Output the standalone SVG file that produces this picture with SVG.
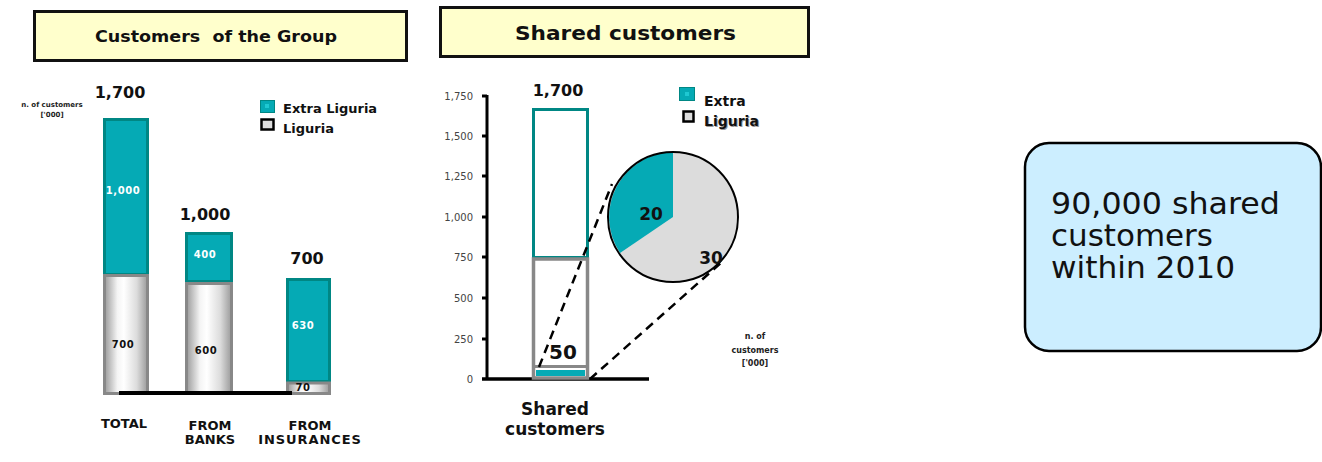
<svg xmlns="http://www.w3.org/2000/svg" width="1322" height="462" viewBox="0 0 1322 462">
<defs>
<linearGradient id="cyl" x1="0" y1="0" x2="1" y2="0">
<stop offset="0" stop-color="#9a9a9a"/>
<stop offset="0.3" stop-color="#f4f4f4"/>
<stop offset="0.45" stop-color="#ffffff"/>
<stop offset="0.75" stop-color="#dcdcdc"/>
<stop offset="1" stop-color="#9a9a9a"/>
</linearGradient>
</defs>
<style>
text{font-family:"DejaVu Sans","Liberation Sans",sans-serif;}
.b{font-weight:bold;}
.title{fill:#ffffcc;stroke:#111;stroke-width:3;}
.teal{fill:#05aab5;stroke:#008784;stroke-width:3;}
.gray{fill:url(#cyl);stroke:#888;stroke-width:3;}
.in{font-size:10px;font-weight:bold;letter-spacing:0.6px;text-anchor:middle;}
.tot{font-size:16px;font-weight:bold;text-anchor:middle;fill:#111;}
.cat{font-size:13px;font-weight:bold;text-anchor:middle;fill:#111;}
.tick{font-size:10px;fill:#444;text-anchor:end;}
.dash{stroke:#000;stroke-width:2.5;stroke-dasharray:9 6;fill:none;}
</style>

<g id="title-group">
<rect class="title" x="34.5" y="11.5" width="372" height="49"/>
<text class="b" x="95" y="42" font-size="15.5" fill="#111" xml:space="preserve" textLength="242" lengthAdjust="spacingAndGlyphs">Customers  of the Group</text>
</g>

<g id="title-shared">
<rect class="title" x="440.5" y="7.5" width="368" height="49"/>
<text class="b" x="515" y="40" font-size="19" fill="#111" textLength="221" lengthAdjust="spacingAndGlyphs">Shared customers</text>
</g>

<g id="chart-group">
<text class="b" x="52" y="107" font-size="7" text-anchor="middle" fill="#222">n. of customers</text>
<text class="b" x="52" y="117" font-size="7" text-anchor="middle" fill="#222">['000]</text>
<g id="legend-group">
<rect x="260.5" y="100.5" width="14" height="12" fill="#05aab5" stroke="#008784" stroke-width="1"/>
<rect x="265" y="104" width="4" height="4" fill="#1ec8d2"/>
<text class="b" x="283" y="113" font-size="13" fill="#111">Extra Liguria</text>
<rect x="261.5" y="119.5" width="12" height="10" fill="#ddd" stroke="#000" stroke-width="2.5"/>
<text class="b" x="283" y="133" font-size="13" fill="#111">Liguria</text>
</g>
<g id="bar-total">
<rect class="teal" x="104.5" y="119.5" width="43" height="155"/>
<rect class="gray" x="104.5" y="275.5" width="43" height="118"/>
<text class="in" x="123" y="194" fill="#fff">1,000</text>
<text class="in" x="123" y="348" fill="#111">700</text>
<text class="tot" x="120" y="98">1,700</text>
<text class="cat" x="124" y="428">TOTAL</text>
</g>
<g id="bar-banks">
<rect class="teal" x="186.5" y="233.5" width="45" height="48"/>
<rect class="gray" x="186.5" y="283.5" width="45" height="110"/>
<text class="in" x="205" y="258" fill="#fff">400</text>
<text class="in" x="206" y="354" fill="#111">600</text>
<text class="tot" x="205" y="220">1,000</text>
<text class="cat" x="210" y="430">FROM</text>
<text class="cat" x="210" y="444">BANKS</text>
</g>
<g id="bar-insurances">
<rect class="teal" x="287.5" y="279.5" width="42" height="102"/>
<rect class="gray" x="287.5" y="383" width="42" height="10.5"/>
<text class="in" x="303" y="329" fill="#fff">630</text>
<text class="in" x="303" y="391" fill="#111">70</text>
<text class="tot" x="307" y="264">700</text>
<text class="cat" x="310" y="430">FROM</text>
<text class="cat" x="310" y="444" letter-spacing="0.9">INSURANCES</text>
</g>
<rect x="119" y="391" width="173" height="4" fill="#000"/>
</g>

<g id="chart-shared">
<g id="axis">
<line x1="487" y1="95" x2="487" y2="380" stroke="#000" stroke-width="3"/>
<line x1="482" y1="379" x2="649" y2="379" stroke="#000" stroke-width="3.5"/>
<g stroke="#000" stroke-width="3">
<line x1="482" y1="96" x2="487" y2="96"/>
<line x1="482" y1="136" x2="487" y2="136"/>
<line x1="482" y1="176" x2="487" y2="176"/>
<line x1="482" y1="217" x2="487" y2="217"/>
<line x1="482" y1="257" x2="487" y2="257"/>
<line x1="482" y1="298" x2="487" y2="298"/>
<line x1="482" y1="339" x2="487" y2="339"/>
</g>
<text class="tick" x="473" y="100">1,750</text>
<text class="tick" x="473" y="140">1,500</text>
<text class="tick" x="473" y="180">1,250</text>
<text class="tick" x="473" y="221">1,000</text>
<text class="tick" x="473" y="261">750</text>
<text class="tick" x="473" y="302">500</text>
<text class="tick" x="473" y="343">250</text>
<text class="tick" x="473" y="383">0</text>
</g>
<g id="bar-shared">
<rect x="533.5" y="109.5" width="54" height="148" fill="#fff" stroke="#008784" stroke-width="3"/>
<rect x="533.5" y="259" width="54" height="119" fill="#fff" stroke="#888" stroke-width="3.5"/>
<line x1="533" y1="366.5" x2="588" y2="366.5" stroke="#888" stroke-width="3"/>
<rect x="536" y="370" width="49" height="6" fill="#05aab5"/>
<text class="tot" x="558" y="96">1,700</text>
<text class="b" x="563" y="359" font-size="20" text-anchor="middle" fill="#111">50</text>
</g>
<g id="pie">
<circle cx="673" cy="217" r="65" fill="#dcdcdc"/>
<path d="M673,217 L673,152 A65,65 0 0,0 620,253 Z" fill="#05aab5"/>
<circle cx="673" cy="217" r="65" fill="none" stroke="#000" stroke-width="2"/>
<text class="b" x="651" y="220" font-size="17" text-anchor="middle" fill="#111">20</text>
<text class="b" x="711" y="264" font-size="17" text-anchor="middle" fill="#111">30</text>
</g>
<g id="legend-shared">
<rect x="679.5" y="87.5" width="15" height="13" fill="#05aab5" stroke="#008784" stroke-width="1"/>
<rect x="685" y="92" width="4" height="4" fill="#1ec8d2"/>
<text class="b" x="704" y="106" font-size="14" fill="#111">Extra</text>
<rect x="683.5" y="111.5" width="10" height="10" fill="#ddd" stroke="#000" stroke-width="2.5"/>
<text class="b" x="705" y="127" font-size="14" fill="#999">Liguria</text>
<text class="b" x="704" y="126" font-size="14" fill="#111">Liguria</text>
</g>
<text class="b" x="755" y="339" font-size="8" text-anchor="middle" fill="#222">n. of</text>
<text class="b" x="755" y="353" font-size="8" text-anchor="middle" fill="#222">customers</text>
<text class="b" x="755" y="366" font-size="8" text-anchor="middle" fill="#222">['000]</text>
<text class="b" x="555" y="415" font-size="17" text-anchor="middle" fill="#111">Shared</text>
<text class="b" x="555" y="435" font-size="17" text-anchor="middle" fill="#111">customers</text>
</g>

<g id="connectors">
<line class="dash" x1="539" y1="367" x2="612" y2="184"/>
<line class="dash" x1="590" y1="379" x2="723" y2="261"/>
</g>

<g id="note">
<rect x="1025" y="143" width="296" height="208" rx="24" ry="24" fill="#cceeff" stroke="#000" stroke-width="2.5"/>
<text x="1051" y="214" font-size="30" fill="#111" textLength="229" lengthAdjust="spacingAndGlyphs">90,000 shared</text>
<text x="1051" y="246" font-size="30" fill="#111" textLength="162" lengthAdjust="spacingAndGlyphs">customers</text>
<text x="1051" y="278" font-size="30" fill="#111" textLength="184" lengthAdjust="spacingAndGlyphs">within 2010</text>
</g>
</svg>
